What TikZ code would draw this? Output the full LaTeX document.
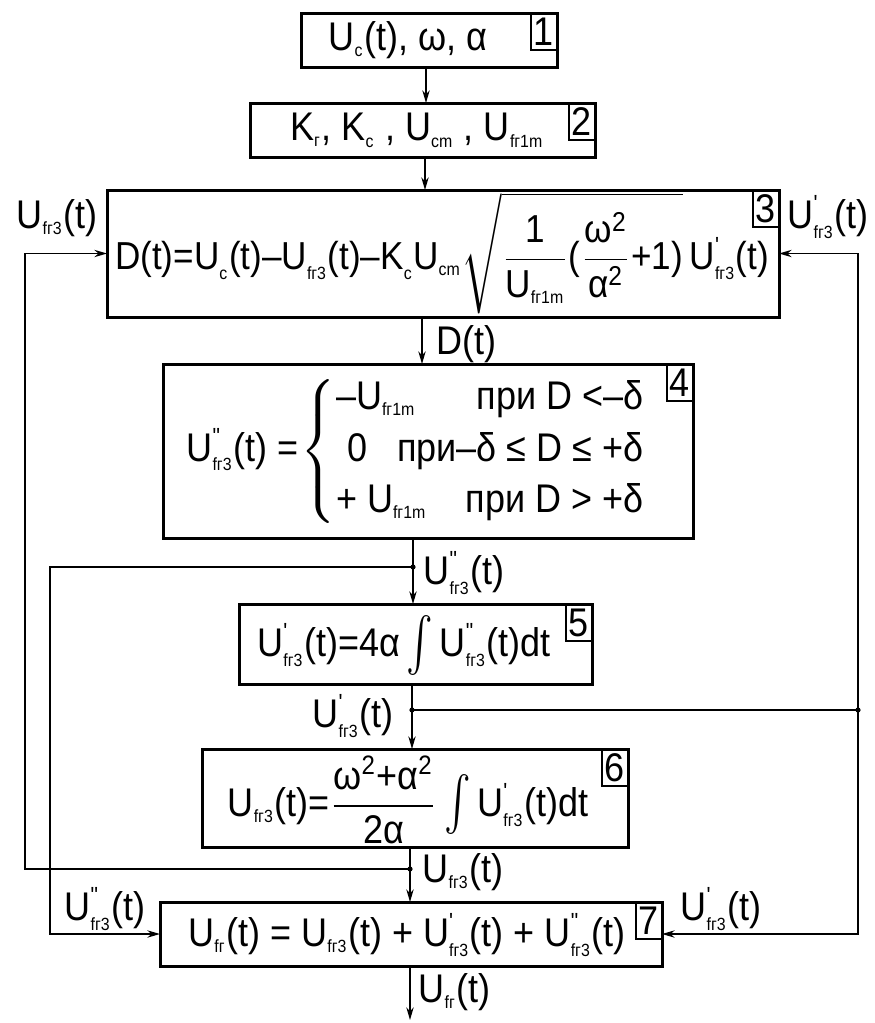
\documentclass[tikz,border=0pt]{standalone}
\usepackage{amsmath}
\usepackage{graphicx}
\usepackage{fontspec}
\setmainfont{Liberation Sans}[FakeStretch=0.9]
\usetikzlibrary{arrows.meta}
\newcommand\sbx[1]{_{\mbox{\fontsize{5.3}{5.3}\selectfont #1}}}
\newcommand\tX[1]{\text{#1}}
\newcommand\pr{^{\mbox{\fontsize{7}{7}\selectfont\textquotesingle}}}
\newcommand\prr{^{\mbox{\fontsize{7}{7}\selectfont\textquotedbl}}}
\newcommand\Uu[1]{\text{U}\sbx{#1}}
\newcommand\Uup[1]{\text{U}\pr\sbx{#1}}
\newcommand\Uupp[1]{\text{U}\prr\sbx{#1}}
\newcommand\tint{\mathop{\raisebox{-0.5pt}{\scalebox{1}[1.35]{$\int$}}}\nolimits}
\begin{document}
\begin{tikzpicture}[x=0.3pt,y=-0.3pt,
 box/.style={draw,line width=0.9pt,inner sep=0pt,outer sep=0pt},
 numbox/.style={draw,line width=0.45pt,minimum width=26*0.3pt,minimum height=37*0.3pt,inner sep=0pt,outer sep=0pt,font=\fontsize{12}{14}\selectfont},
 txt/.style={inner sep=0pt,font=\fontsize{12}{14}\selectfont},
 conn/.style={line width=0.45pt},
 arr/.style={conn,-{Stealth[length=3.8pt,width=2.2pt]}},
 dotf/.style={fill=black}]
\useasboundingbox (0,0) rectangle (875,1023);
% boxes
\node[box,minimum width=256*0.3pt,minimum height=54*0.3pt] (b1) at (429,40) {};
\node[box,minimum width=345*0.3pt,minimum height=54*0.3pt] (b2) at (422.5,130) {};
\node[box,minimum width=672*0.3pt,minimum height=127*0.3pt] (b3) at (443,253.5) {};
\node[box,minimum width=530*0.3pt,minimum height=174*0.3pt] (b4) at (428,451) {};
\node[box,minimum width=353*0.3pt,minimum height=80*0.3pt] (b5) at (415.5,644) {};
\node[box,minimum width=426*0.3pt,minimum height=98*0.3pt] (b6) at (415,798) {};
\node[box,minimum width=502*0.3pt,minimum height=64*0.3pt] (b7) at (411,934) {};
% number boxes
\node[numbox,anchor=north east] (n1) at (b1.north east) {1};
\node[numbox,anchor=north east] (n2) at (b2.north east) {2};
\node[numbox,anchor=north east] (n3) at (b3.north east) {3};
\node[numbox,anchor=north east] (n4) at (b4.north east) {4};
\node[numbox,anchor=north east] (n5) at (b5.north east) {5};
\node[numbox,anchor=north east] (n6) at (b6.north east) {6};
\node[numbox,anchor=north east] (n7) at (b7.north east) {7};
% texts
\node[txt] (t1) at (408,40) {$\Uu{c}\tX{(t), ω, α}$};
\node[txt] (t2) at (417,130) {$\tX{K}\sbx{г}\tX{, K}\sbx{c}\tX{ , U}\sbx{cm}\tX{ , U}\sbx{fг1m}$};
\node[txt,font=\fontsize{11.7}{14}\selectfont] (t3) at (442,253) {$\displaystyle \tX{D(t)=U}\sbx{c}\tX{(t)–U}\sbx{fг3}\tX{(t)–K}\sbx{c}\tX{U}\sbx{cm}\sqrt{\frac{\tX{1}}{\Uu{fг1m}}\tX{(}\frac{\tX{ω}^{\tX{2}}}{\tX{α}^{\tX{2}}}\tX{+1)}}\,\Uup{fг3}\tX{(t)}$};
\node[txt] (t4) at (417,451) {$\displaystyle \Uupp{fг3}\tX{(t) =}\mskip-2mu\left\{\renewcommand\arraystretch{1.1}\begin{array}{@{}l@{\hspace{11pt}}r@{}} \tX{–}\Uu{fг1m} & \tX{при D <–δ}\\ \multicolumn{2}{@{}l@{}}{\;\tX{0}\hspace{9pt}\tX{при–δ ≤ D ≤ +δ}} \\ \tX{+ }\Uu{fг1m} & \tX{при D > +δ}\end{array}\right.$};
\node[txt] (t5) at (404,645) {$\Uup{fг3}\tX{(t)=4α}\tint\Uupp{fг3}\tX{(t)dt}$};
\node[txt] (t6) at (408,800) {$\Uu{fг3}\tX{(t)=}\dfrac{\tX{ω}^{\tX{2}}\tX{+α}^{\tX{2}}}{\tX{2α}}\tint\Uup{fг3}\tX{(t)dt}$};
\node[txt] (t7) at (407,935) {$\Uu{fг}\tX{(t) = }\Uu{fг3}\tX{(t) + }\Uup{fг3}\tX{(t) + }\Uupp{fг3}\tX{(t)}$};
% spine coordinates
\coordinate (s12) at (426,0);
\coordinate (s23) at (425,0);
\coordinate (s34) at (422,0);
\coordinate (s45) at (413,0);
\coordinate (s56) at (412,0);
\coordinate (s67) at (410,0);
\coordinate (xL1) at (25,0);
\coordinate (xL2) at (50,0);
\coordinate (j4) at (413,567);
\coordinate (j5) at (412,710);
\coordinate (jR) at (858,710);
\coordinate (j6) at (410,869);
\coordinate (out) at (410,1020);
% connectors
\draw[arr] (b1.south -| s12) -- (b2.north -| s12);
\draw[arr] (b2.south -| s23) -- (b3.north -| s23);
\draw[arr] (b3.south -| s34) -- (b4.north -| s34);
\draw[arr] (b4.south -| s45) -- (b5.north -| s45);
\draw[arr] (b5.south -| s56) -- (b6.north -| s56);
\draw[arr] (b6.south -| s67) -- (b7.north -| s67);
\draw[arr] (b7.south -| s67) -- (out);
\draw[arr] (j4) -| (xL2 |- b7.west) -- (b7.west);
\draw[conn] (j5) -- (jR);
\draw[arr] (jR) |- (b3.east);
\draw[arr] (jR) |- (b7.east);
\draw[arr] (j6) -| (xL1 |- b3.west) -- (b3.west);
\fill[dotf] (j4) circle (2.6);
\fill[dotf] (j5) circle (2.6);
\fill[dotf] (jR) circle (2.6);
\fill[dotf] (j6) circle (2.6);
% labels
\node[txt,anchor=west] (lD) at (436,344) {D(t)};
\node[txt,anchor=west] (l4) at (423,573) {$\Uupp{fг3}\tX{(t)}$};
\node[txt,anchor=east] (l5) at (394,716) {$\Uup{fг3}\tX{(t)}$};
\node[txt,anchor=west] (l6) at (422,872) {$\Uu{fг3}\tX{(t)}$};
\node[txt,anchor=west] (l7) at (418,992) {$\Uu{fг}\tX{(t)}$};
\node[txt] (lL3) at (57,218) {$\Uu{fг3}\tX{(t)}$};
\node[txt] (lR3) at (828,217) {$\Uup{fг3}\tX{(t)}$};
\node[txt] (lL7) at (105,909) {$\Uupp{fг3}\tX{(t)}$};
\node[txt] (lR7) at (721,909) {$\Uup{fг3}\tX{(t)}$};
\end{tikzpicture}
\end{document}
